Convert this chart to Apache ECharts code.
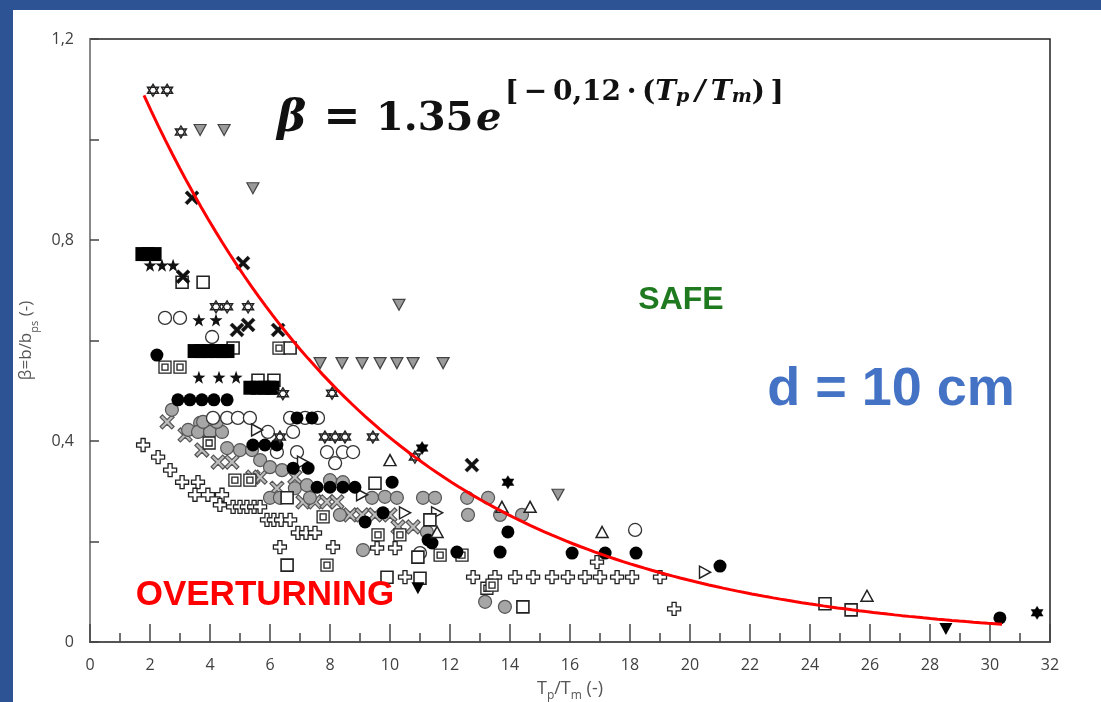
<!DOCTYPE html>
<html>
<head>
<meta charset="utf-8">
<title>β vs Tp/Tm</title>
<script src="https://cdn.jsdelivr.net/npm/echarts@6/dist/echarts.min.js"></script>
<style>
  html, body { margin: 0; padding: 0; background: #ffffff; }
  #chart { width: 1101px; height: 702px; }
</style>
</head>
<body>
<div id="chart"></div>
<script>
// Fit curve coefficients: beta = A * exp(-k * Tp/Tm)
const fitA = 1.35;
const fitK = 0.12;
const fitRange = [1.8, 30.4];

// Axis ticks
const xTicks = [0, 2, 4, 6, 8, 10, 12, 14, 16, 18, 20, 22, 24, 26, 28, 30, 32];
const yTicks = [0, 0.4, 0.8, 1.2];

// Test points [Tp/Tm, beta], one list per marker type
const hexOpen = [[2.10,1.098],[2.57,1.098],[3.03,1.015],[4.20,0.667],[4.57,0.667],[5.27,0.667],[6.43,0.494],[8.07,0.495],[7.83,0.408],[8.17,0.408],[8.50,0.408],[9.43,0.408],[6.33,0.408],[10.83,0.368]];
const hexFilled = [[11.07,0.386],[13.93,0.318],[31.57,0.058]];
const triDownGray = [[3.67,1.019],[4.47,1.019],[5.43,0.903],[10.30,0.671],[7.67,0.555],[8.40,0.555],[9.07,0.555],[9.67,0.555],[10.23,0.555],[10.77,0.555],[11.77,0.555],[15.60,0.293]];
const triDownBlack = [[28.53,0.026],[10.93,0.107]];
const xBlack = [[3.40,0.884],[5.10,0.754],[3.10,0.727],[4.90,0.621],[5.27,0.631],[6.27,0.621],[12.73,0.352]];
const xGray = [[2.57,0.438],[3.17,0.412],[3.73,0.382],[4.27,0.358],[4.73,0.358],[5.43,0.328],[5.67,0.328],[6.23,0.306],[6.83,0.328],[7.10,0.279],[7.50,0.279],[7.90,0.279],[8.23,0.279],[8.67,0.253],[9.07,0.253],[9.50,0.253],[10.00,0.253],[10.27,0.229],[10.77,0.229]];
const star5 = [[2.00,0.750],[2.40,0.750],[2.77,0.750],[3.63,0.641],[4.20,0.641],[3.63,0.527],[4.30,0.527],[4.87,0.527]];
const squareOpen = [[3.77,0.716],[3.07,0.716],[4.77,0.585],[5.60,0.521],[6.13,0.521],[6.67,0.585],[9.50,0.316],[6.57,0.153],[9.90,0.129],[11.00,0.127],[11.33,0.243],[10.93,0.169],[14.43,0.070],[24.50,0.076],[25.37,0.064],[6.57,0.287]];
const squareDouble = [[2.50,0.547],[3.00,0.547],[6.30,0.585],[3.97,0.396],[4.83,0.322],[5.33,0.322],[7.77,0.249],[9.60,0.213],[10.33,0.213],[11.67,0.173],[12.40,0.173],[13.23,0.107],[13.40,0.113],[7.90,0.153]];
const squareBlack = [[1.73,0.772],[1.93,0.772],[2.17,0.772],[3.47,0.579],[3.70,0.579],[3.93,0.579],[4.17,0.579],[4.40,0.579],[4.60,0.579],[5.33,0.506],[5.57,0.506],[5.80,0.506],[6.00,0.506],[6.10,0.506]];
const circleBlack = [[2.23,0.571],[2.93,0.482],[3.33,0.482],[3.73,0.482],[4.13,0.482],[4.57,0.482],[5.43,0.392],[5.83,0.392],[6.23,0.392],[6.77,0.346],[7.27,0.346],[6.90,0.446],[7.40,0.446],[7.57,0.308],[8.00,0.308],[8.43,0.308],[8.83,0.308],[9.17,0.239],[9.77,0.257],[11.27,0.203],[11.40,0.197],[12.23,0.179],[13.67,0.179],[13.93,0.219],[16.07,0.177],[17.17,0.177],[18.20,0.177],[21.00,0.151],[30.33,0.048],[10.07,0.318]];
const circleGray = [[2.73,0.462],[3.27,0.422],[3.67,0.436],[3.60,0.418],[4.00,0.418],[4.40,0.418],[3.77,0.438],[4.23,0.438],[4.57,0.386],[5.00,0.382],[5.40,0.382],[5.67,0.362],[6.00,0.348],[6.40,0.342],[6.83,0.306],[7.23,0.312],[8.00,0.322],[8.43,0.318],[6.00,0.287],[6.33,0.287],[7.33,0.287],[9.40,0.287],[9.83,0.289],[10.23,0.287],[11.10,0.287],[11.50,0.287],[12.57,0.287],[13.27,0.287],[8.33,0.253],[12.60,0.253],[13.67,0.253],[14.40,0.253],[11.23,0.219],[9.10,0.183],[13.17,0.080],[13.83,0.070]];
const circleOpen = [[2.50,0.645],[3.00,0.645],[4.07,0.607],[4.10,0.446],[4.57,0.446],[4.93,0.446],[5.33,0.446],[6.67,0.446],[7.17,0.446],[7.60,0.446],[5.93,0.418],[6.77,0.418],[6.23,0.378],[6.90,0.378],[7.90,0.378],[8.43,0.378],[8.77,0.378],[8.17,0.356],[11.00,0.177],[18.17,0.223]];
const crossOpen = [[1.77,0.392],[2.27,0.368],[2.67,0.342],[3.07,0.318],[3.60,0.318],[3.50,0.293],[3.93,0.293],[4.40,0.293],[4.33,0.273],[4.77,0.269],[5.00,0.269],[5.23,0.269],[5.47,0.269],[5.67,0.269],[5.90,0.243],[6.13,0.243],[6.37,0.243],[6.67,0.243],[6.93,0.217],[7.20,0.217],[7.50,0.217],[6.33,0.189],[8.10,0.189],[9.57,0.187],[10.17,0.187],[10.50,0.129],[12.77,0.129],[13.50,0.129],[14.17,0.129],[14.77,0.129],[15.40,0.129],[15.93,0.129],[16.50,0.129],[17.00,0.129],[17.57,0.129],[18.07,0.129],[19.00,0.129],[16.90,0.159],[19.47,0.066]];
const triUpOpen = [[10.00,0.362],[13.73,0.269],[14.67,0.269],[17.07,0.219],[25.90,0.092],[11.57,0.219]];
const triRightOpen = [[5.57,0.422],[7.10,0.358],[9.07,0.293],[10.50,0.257],[11.57,0.257],[20.50,0.139]];

// Marker outlines
const SYM = {
  hex: 'path://M0,-10L8.66,5L-8.66,5Z M0,10L-8.66,-5L8.66,-5Z',
  star: 'path://M0,-10L2.35,-3.24L9.51,-3.09L3.8,1.24L5.88,8.09L0,4L-5.88,8.09L-3.8,1.24L-9.51,-3.09L-2.35,-3.24Z',
  cross: 'path://M-2.2,-7H2.2V-2.2H7V2.2H2.2V7H-2.2V2.2H-7V-2.2H-2.2Z',
  xmark: 'path://M-5,-7.5L0,-2.5L5,-7.5L7.5,-5L2.5,0L7.5,5L5,7.5L0,2.5L-5,7.5L-7.5,5L-2.5,0L-7.5,-5Z',
  dsq: 'path://M-6,-6H6V6H-6Z M-3,-3H3V3H-3Z',
  triDown: 'path://M-6,-5H6L0,6Z',
  triRight: 'path://M-5,-6L6,0L-5,6Z'
};

function scatter(name, data, symbol, size, fill, stroke, bw) {
  return {
    name: name, type: 'scatter', data: data,
    symbol: symbol, symbolSize: size,
    itemStyle: { color: fill, borderColor: stroke, borderWidth: bw, opacity: 1 },
    emphasis: { disabled: true }
  };
}

// Fit curve sampled from the stated equation
const curve = [];
for (let i = 0; i <= 120; i++) {
  const x = fitRange[0] + (fitRange[1] - fitRange[0]) * i / 120;
  curve.push([x, fitA * Math.exp(-fitK * x)]);
}

const chart = echarts.init(document.getElementById('chart'), null, { renderer: 'canvas' });

const tickFont = { fontSize: 16, color: '#404040', fontFamily: 'Open Sans' };
const thin = '\u2009';

chart.setOption({
  animation: false,
  backgroundColor: '#ffffff',
  grid: {
    left: 90, right: 51, top: 39, bottom: 60,
    containLabel: false, outerBoundsMode: 'none',
    show: true, borderColor: '#222', borderWidth: 1.5, backgroundColor: 'transparent'
  },
  xAxis: {
    type: 'value', min: xTicks[0], max: xTicks[xTicks.length - 1], interval: xTicks[1] - xTicks[0],
    axisLine: { show: true, onZero: false, lineStyle: { color: '#555', width: 2 } },
    axisTick: { show: true, inside: true, length: 18, lineStyle: { color: '#444', width: 1.5 } },
    minorTick: { show: true, splitNumber: 2, length: 9, lineStyle: { color: '#444', width: 1.5 } },
    splitLine: { show: false },
    axisLabel: Object.assign({ margin: 15 }, tickFont),
    name: 'T{s|p}/T{s|m} (-)',
    nameLocation: 'middle', nameGap: 38,
    nameTextStyle: { fontSize: 18, color: '#555', fontFamily: 'Open Sans',
      rich: { s: { fontSize: 12, color: '#555', fontFamily: 'Open Sans', verticalAlign: 'bottom', padding: [0, 0, -4, 0] } } }
  },
  yAxis: {
    type: 'value', min: yTicks[0], max: yTicks[yTicks.length - 1], interval: yTicks[1] - yTicks[0],
    axisLine: { show: true, onZero: false, lineStyle: { color: '#888', width: 2 } },
    axisTick: { show: true, inside: true, length: 9, lineStyle: { color: '#444', width: 1.5 } },
    minorTick: { show: true, splitNumber: 2, length: 9, lineStyle: { color: '#444', width: 1.5 } },
    splitLine: { show: false },
    axisLabel: Object.assign({ margin: 16, formatter: v => (Math.round(v * 10) / 10).toString().replace('.', ',') }, tickFont),
    name: 'β=b/b{s|ps} (-)',
    nameLocation: 'middle', nameGap: 50, nameRotate: 90,
    nameTextStyle: { fontSize: 17, color: '#555', fontFamily: 'Open Sans',
      rich: { s: { fontSize: 11, color: '#555', fontFamily: 'Open Sans', verticalAlign: 'bottom', padding: [0, 0, -6, 0] } } }
  },
  series: [
    scatter('crossOpen', crossOpen, SYM.cross, [13, 13], '#ffffff', '#222', 1.3),
    scatter('xGray', xGray, SYM.xmark, [14, 14], '#bdbdbd', '#555', 1.2),
    scatter('circleGray', circleGray, 'circle', 13, '#a6a6a6', '#555', 1.2),
    scatter('circleOpen', circleOpen, 'circle', 13, '#ffffff', '#333', 1.3),
    scatter('triRightOpen', triRightOpen, SYM.triRight, [11, 12], '#ffffff', '#222', 1.5),
    scatter('squareDouble', squareDouble, SYM.dsq, [12, 12], '#ffffff', '#222', 1.3),
    scatter('squareOpen', squareOpen, 'rect', 12, '#ffffff', '#222', 1.6),
    scatter('circleBlack', circleBlack, 'circle', 13, '#000000', '#000000', 0),
    scatter('squareBlack', squareBlack, 'rect', [13, 14], '#000000', '#000000', 0),
    scatter('star5', star5, SYM.star, [13, 13], '#111', '#111', 0),
    scatter('hexOpen', hexOpen, SYM.hex, [11, 12], '#ffffff', '#222', 1.4),
    scatter('hexFilled', hexFilled, SYM.hex, [12, 13], '#000000', '#000000', 0.5),
    scatter('triUpOpen', triUpOpen, 'triangle', [12, 11], '#ffffff', '#222', 1.5),
    scatter('triDownGray', triDownGray, SYM.triDown, [12, 11], '#9a9a9a', '#444', 1.2),
    scatter('triDownBlack', triDownBlack, SYM.triDown, [13, 12], '#000000', '#000000', 0),
    scatter('xBlack', xBlack, SYM.xmark, [14, 14], '#111', '#111', 0.5),
    {
      name: 'fit', type: 'line', data: curve, showSymbol: false, smooth: false,
      lineStyle: { color: '#ff0000', width: 3 }, z: 5, emphasis: { disabled: true }
    }
  ],
  graphic: [
    // slide frame
    { type: 'rect', left: 0, top: 0, shape: { width: 1101, height: 10 }, style: { fill: '#2e5395' }, z: 100 },
    { type: 'rect', left: 0, top: 0, shape: { width: 13, height: 702 }, style: { fill: '#2e5395' }, z: 100 },
    // equation
    { type: 'text', x: 277, y: 120, z: 100, style: { text: 'β', font: 'italic bold 44px "DejaVu Serif"', fill: '#111', verticalAlign: 'middle' } },
    { type: 'text', x: 342, y: 120, z: 100, style: { text: '=', font: 'bold 44px "DejaVu Serif"', fill: '#111', align: 'center', verticalAlign: 'middle' } },
    { type: 'text', x: 376, y: 120, z: 100, style: { text: '1.35', font: 'bold 40px "DejaVu Serif"', fill: '#111', verticalAlign: 'middle' } },
    { type: 'text', x: 476, y: 120, z: 100, style: { text: 'e', font: 'italic bold 40px "DejaVu Serif"', fill: '#111', verticalAlign: 'middle' } },
    { type: 'text', x: 505, y: 93, z: 100, style: {
        text: '[' + thin + '−' + thin + '0,12' + thin + '·' + thin + '({i|T}{s|p}' + thin + '{i|/}' + thin + '{i|T}{s|m})' + thin + ']',
        font: 'bold 28px "DejaVu Serif"', fill: '#111', verticalAlign: 'middle',
        rich: {
          i: { fontStyle: 'italic', fontWeight: 'bold', fontSize: 28, fontFamily: 'DejaVu Serif', fill: '#111' },
          s: { fontStyle: 'italic', fontWeight: 'bold', fontSize: 19, fontFamily: 'DejaVu Serif', fill: '#111', verticalAlign: 'bottom' }
        }
      } },
    // region labels
    { type: 'text', x: 681, y: 300, z: 100, style: { text: 'SAFE', font: 'bold 32px "Liberation Sans"', fill: '#1f7a1f', align: 'center', verticalAlign: 'middle' } },
    { type: 'text', x: 891, y: 390, z: 100, style: { text: 'd = 10 cm', font: 'bold 54px "Liberation Sans"', fill: '#4472c4', align: 'center', verticalAlign: 'middle' } },
    { type: 'text', x: 265, y: 595, z: 100, style: { text: 'OVERTURNING', font: 'bold 35px "Liberation Sans"', fill: '#ff0000', align: 'center', verticalAlign: 'middle' } }
  ]
});
</script>
</body>
</html>
